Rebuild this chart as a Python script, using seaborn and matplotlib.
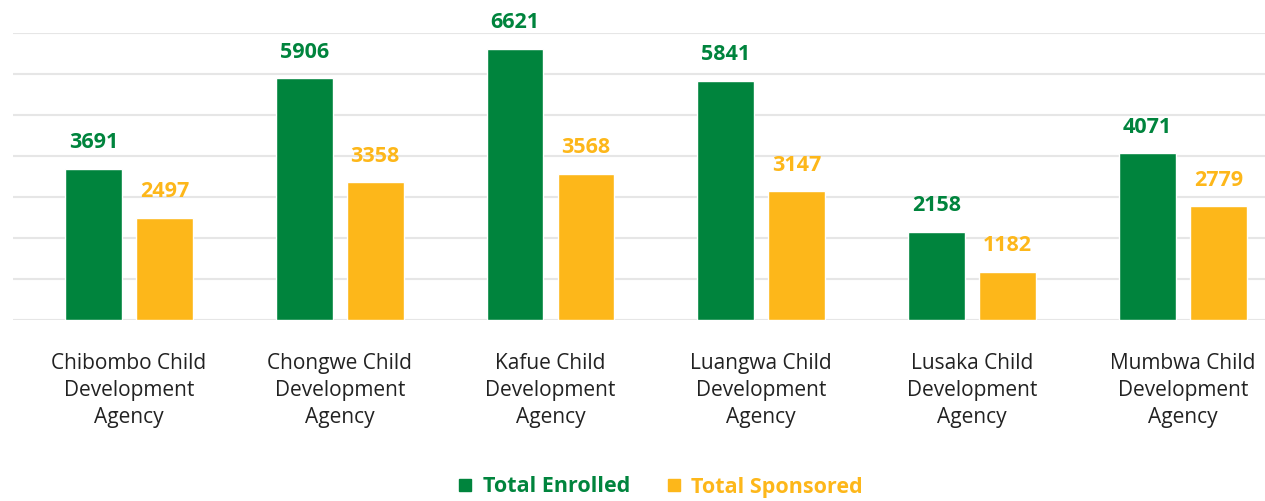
import pandas as pd
import seaborn as sns
import matplotlib.pyplot as plt
from matplotlib.lines import Line2D

# data
agencies = ["Chibombo Child\nDevelopment\nAgency", "Chongwe Child\nDevelopment\nAgency",
            "Kafue Child\nDevelopment\nAgency", "Luangwa Child\nDevelopment\nAgency",
            "Lusaka Child\nDevelopment\nAgency", "Mumbwa Child\nDevelopment\nAgency"]
enrolled = [3691, 5906, 6621, 5841, 2158, 4071]
sponsored = [2497, 3358, 3568, 3147, 1182, 2779]
series = ["Total Enrolled", "Total Sponsored"]
colors = ["#00843D", "#FDB71A"]

df = pd.DataFrame({
    "agency": agencies * 2,
    "value": enrolled + sponsored,
    "series": [series[0]] * len(agencies) + [series[1]] * len(agencies),
})

sns.set_style("white")
plt.rcParams['font.family'] = ['Open Sans', 'DejaVu Sans']

fig = plt.figure(figsize=(12.65, 5.01), dpi=100)
ax = fig.add_axes([13 / 1265, 1 - 320 / 501, 1 - 13 / 1265, (320 - 33) / 501])

sns.barplot(data=df, x="agency", y="value", hue="series", palette=colors,
            width=0.674, gap=0.2, saturation=1, legend=False, ax=ax)

# value labels
for cont, col in zip(ax.containers, colors):
    ax.bar_label(cont, fmt="%d", padding=11, color=col, fontsize=15.5,
                 fontweight="bold", clip_on=False)

ax.set_ylim(0, 7000)
ax.set_xlim(-0.55, 5.39)
ax.set_yticks(range(0, 7001, 1000))
ax.set_yticklabels([])
ax.yaxis.grid(True, color="#e6e6e6", linewidth=1.5)
ax.set_axisbelow(True)
for s in ax.spines.values():
    s.set_visible(False)
ax.tick_params(axis="x", length=0, pad=24, labelsize=15, labelcolor="#222222")
ax.tick_params(axis="y", length=0)
for t in ax.get_xticklabels():
    t.set_linespacing(1.38)
ax.set_xlabel("")
ax.set_ylabel("")

handles = [Line2D([], [], marker="s", linestyle="none", markersize=9,
                  color=c) for c in colors]
leg = fig.legend(handles, series, loc="center", bbox_to_anchor=(0.522, 1 - 487 / 501),
                 ncol=2, frameon=False, handlelength=0.7, handletextpad=0.45,
                 columnspacing=1.7, prop={"weight": "bold", "size": 15.5})
for t, c in zip(leg.get_texts(), colors):
    t.set_color(c)

fig.savefig("out.png", dpi=100)
